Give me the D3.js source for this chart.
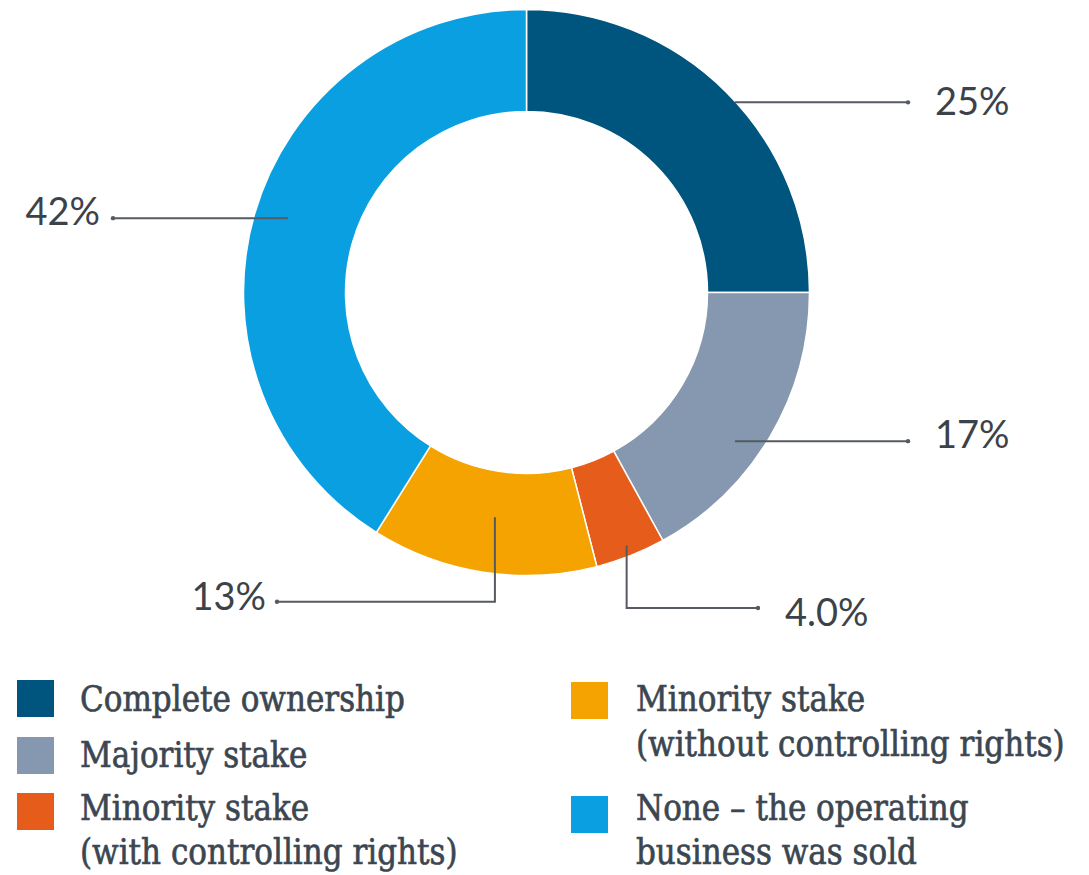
<!DOCTYPE html>
<html>
<head>
<meta charset="utf-8">
<title>Ownership donut</title>
<script src="https://cdn.jsdelivr.net/npm/d3@7"></script>
<style>
  html, body { margin: 0; padding: 0; background: #fff; }
  svg { display: block; }
</style>
</head>
<body>
<div id="chart"></div>
<script>
// slice values (share of the ring, clockwise from 12 o'clock)
const categories = [
  "Complete ownership",
  "Majority stake",
  "Minority stake (with controlling rights)",
  "Minority stake (without controlling rights)",
  "None \u2013 the operating business was sold"
];
const values = [25.0, 17.0, 4.0, 12.9, 41.1];
const valueLabels = ["25%", "17%", "4.0%", "13%", "42%"];
const colors = ["#00557f", "#8598af", "#e65c1a", "#f5a300", "#0a9fe0"];

// legend lines (wrapped as in the original)
const legendLines = [
  ["Complete ownership"],
  ["Majority stake"],
  ["Minority stake", "(with controlling rights)"],
  ["Minority stake", "(without controlling rights)"],
  ["None \u2013 the operating", "business was sold"]
];

const width = 1089, height = 875;
const cx = 526.5, cy = 292.5, outerR = 283, innerR = 181;

const svg = d3.select("#chart").append("svg")
  .attr("width", width)
  .attr("height", height);

const pie = d3.pie().sort(null).value(d => d)
  .startAngle(0).endAngle(2 * Math.PI);
const arc = d3.arc().innerRadius(innerR).outerRadius(outerR);

const arcs = pie(values);

svg.append("g")
  .attr("transform", `translate(${cx},${cy})`)
  .selectAll("path")
  .data(arcs)
  .join("path")
    .attr("d", arc)
    .attr("fill", (d, i) => colors[i])
    .attr("stroke", "#fff")
    .attr("stroke-width", 1.5);

// callout leaders: the start point sits on a slice at a polar position
// [angle in degrees from 12 o'clock, radius]; then the line runs to the label
const callouts = [
  { i: 0, start: [47.6, 282], path: [[908, null]], text: [935, 115], anchor: "start" },
  { i: 1, start: [125.5, 256], path: [[908, null]], text: [935, 448], anchor: "start" },
  { i: 4, start: [287.3, 250], path: [[113, null]], text: [100, 225], anchor: "end" },
  { i: 3, start: [188.0, 227], path: [[null, 601.7], [277, 601.7]], text: [266, 610], anchor: "end" },
  { i: 2, start: [158.4, 272], path: [[null, 608], [758, 608]], text: [785, 626], anchor: "start" }
];

const polar = (deg, r) => {
  const a = deg * Math.PI / 180;
  return [cx + r * Math.sin(a), cy - r * Math.cos(a)];
};

const lead = svg.append("g");
callouts.forEach(c => {
  let pts = [polar(c.start[0], c.start[1])];
  c.path.forEach(p => {
    const last = pts[pts.length - 1];
    pts.push([p[0] == null ? last[0] : p[0], p[1] == null ? last[1] : p[1]]);
  });
  lead.append("path")
    .attr("d", d3.line()(pts))
    .attr("fill", "none")
    .attr("stroke", "#555b61")
    .attr("stroke-width", 2);
  const end = pts[pts.length - 1];
  lead.append("circle")
    .attr("cx", end[0]).attr("cy", end[1]).attr("r", 2.2)
    .attr("fill", "#555b61");
  lead.append("text")
    .attr("x", c.text[0]).attr("y", c.text[1])
    .attr("text-anchor", c.anchor)
    .attr("font-family", "Lato, 'Liberation Sans', sans-serif")
    .attr("font-size", 38)
    .attr("fill", "#3c4249")
    .text(valueLabels[c.i]);
});

// legend
const legendPos = [
  { x: 17, y: 680, tx: 80, base: [711] },
  { x: 17, y: 737, tx: 80, base: [767] },
  { x: 17, y: 793, tx: 80, base: [820, 864] },
  { x: 571, y: 682, tx: 636, base: [711, 756] },
  { x: 571, y: 796, tx: 636, base: [820, 864] }
];

const legend = svg.append("g");
legendPos.forEach((p, i) => {
  legend.append("rect")
    .attr("x", p.x).attr("y", p.y)
    .attr("width", 37).attr("height", 37)
    .attr("fill", colors[i]);
  legendLines[i].forEach((line, j) => {
    legend.append("text")
      .attr("x", p.tx).attr("y", p.base[j])
      .attr("font-family", "'DejaVu Serif Condensed', 'Liberation Serif', serif")
      .attr("font-size", 34.5)
      .attr("fill", "#3b4650")
      .attr("stroke", "#3b4650")
      .attr("stroke-width", 0.6)
      .text(line);
  });
});
</script>
</body>
</html>
